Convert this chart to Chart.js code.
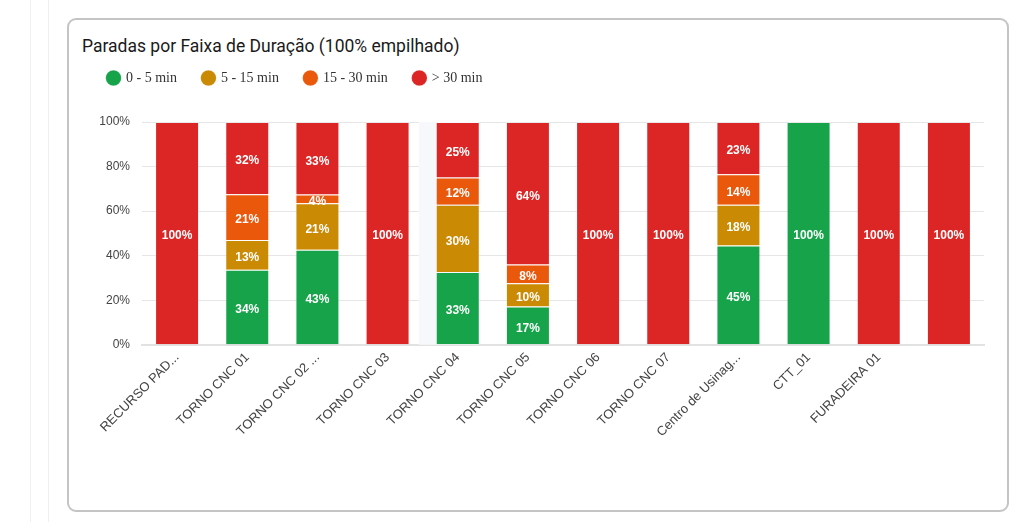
<!DOCTYPE html>
<html>
<head>
<meta charset="utf-8">
<script src="https://cdn.jsdelivr.net/npm/chart.js@4"></script>
<style>
  html, body { margin: 0; padding: 0; background: #fff; }
  body { width: 1029px; height: 522px; position: relative; overflow: hidden; }
  .rule { position: absolute; top: 0; bottom: 0; width: 1px; background: #efefef; }
  .card {
    position: absolute; left: 67px; top: 18px; width: 938px; height: 490px;
    border: 2px solid #c4c4c4; border-radius: 9px; background: #fff;
  }
  .title {
    position: absolute; left: 82px; top: 36px; margin: 0;
    font: 17.5px Roboto, sans-serif; line-height: 21px; color: #1a1a1a;
  }
  #wrap { position: absolute; left: 0; top: 0; width: 1029px; height: 522px; }
</style>
</head>
<body>
<div class="rule" style="left:30px"></div>
<div class="rule" style="left:48px"></div>
<div class="card"></div>
<h3 class="title">Paradas por Faixa de Duração (100% empilhado)</h3>
<div id="wrap"><canvas id="chart"></canvas></div>
<script>
// categorias (recursos) e percentuais por faixa de duração
const categories = ['RECURSO PAD...', 'TORNO CNC 01', 'TORNO CNC 02 ...', 'TORNO CNC 03', 'TORNO CNC 04',
  'TORNO CNC 05', 'TORNO CNC 06', 'TORNO CNC 07', 'Centro de Usinag...', 'CTT_01', 'FURADEIRA 01', ''];
const seriesNames = ['0 - 5 min', '5 - 15 min', '15 - 30 min', '> 30 min'];
const ate5 = [0, 33.7, 42.6, 0, 32.7, 17.2, 0, 0, 44.6, 100, 0, 0];
const de5a15 = [0, 13.3, 20.9, 0, 30.2, 10.4, 0, 0, 18.3, 0, 0, 0];
const de15a30 = [0, 20.6, 4.0, 0, 12.2, 8.4, 0, 0, 13.7, 0, 0, 0];
const acima30 = [100, 32.4, 32.5, 100, 24.9, 64.0, 100, 100, 23.4, 0, 100, 100];
const yTicks = [0, 20, 40, 60, 80, 100];

const colors = ['#16A34A', '#CA8A04', '#EA580C', '#DC2626'];
const highlightIndex = 4;  // coluna com fundo destacado (hover)

// rótulos de porcentagem dentro das barras
const barLabels = {
  id: 'barLabels',
  afterDatasetsDraw(chart) {
    const ctx = chart.ctx;
    ctx.save();
    ctx.font = 'bold 12px Arial, "Liberation Sans", sans-serif';
    ctx.fillStyle = '#ffffff';
    ctx.textAlign = 'center';
    ctx.textBaseline = 'middle';
    chart.data.datasets.forEach((ds, i) => {
      chart.getDatasetMeta(i).data.forEach((bar, j) => {
        const v = ds.data[j];
        if (!v) return;
        const p = bar.getProps(['x', 'y', 'base'], true);
        ctx.fillText(Math.round(v) + '%', p.x, (p.y + p.base) / 2 + 3);
      });
    });
    ctx.restore();
  }
};

// faixa clara atrás da coluna destacada
const hoverBand = {
  id: 'hoverBand',
  beforeDatasetsDraw(chart) {
    const x = chart.scales.x.getPixelForValue(highlightIndex);
    const a = chart.chartArea;
    const ctx = chart.ctx;
    ctx.save();
    ctx.fillStyle = '#f6f8fc';
    ctx.fillRect(x - 39, a.top, 60, a.bottom - a.top);
    ctx.restore();
  }
};

// espaço extra entre a legenda e o gráfico
const legendGap = {
  id: 'legendGap',
  beforeInit(chart) {
    const fit = chart.legend.fit;
    chart.legend.fit = function () {
      fit.bind(chart.legend)();
      this.height += 27;
    };
  }
};

const seriesData = [ate5, de5a15, de15a30, acima30];

new Chart(document.getElementById('chart'), {
  type: 'bar',
  data: {
    labels: categories,
    datasets: seriesNames.map((name, i) => ({
      label: name,
      data: seriesData[i],
      backgroundColor: colors[i],
      borderColor: 'rgba(255,255,255,0.15)',
      borderWidth: 1,
      barPercentage: 0.627,
      categoryPercentage: 1
    }))
  },
  options: {
    responsive: true,
    maintainAspectRatio: false,
    animation: false,
    layout: { padding: { left: 82, right: 45, top: 45, bottom: 77 } },
    plugins: {
      legend: {
        position: 'top',
        align: 'start',
        labels: {
          usePointStyle: true,
          pointStyle: 'circle',
          boxWidth: 11,
          boxHeight: 11,
          padding: 26,
          color: '#333',
          font: { family: '"Liberation Serif", "Times New Roman", serif', size: 14 }
        }
      },
      title: { display: false },
      tooltip: { enabled: false }
    },
    scales: {
      x: {
        stacked: true,
        grid: { display: false, drawTicks: false },
        border: { display: true, color: '#e2e2e2', width: 2 },
        ticks: {
          autoSkip: false,
          maxRotation: 45,
          minRotation: 45,
          padding: 5,
          color: '#444',
          font: { family: 'Arial, "Liberation Sans", sans-serif', size: 13 }
        }
      },
      y: {
        stacked: true,
        min: 0,
        max: 100,
        afterFit(scale) { scale.width = 60; },
        afterBuildTicks(scale) { scale.ticks = yTicks.map(v => ({ value: v })); },
        grid: { color: '#e6e6e6', drawTicks: false },
        border: { display: false },
        ticks: {
          padding: 12,
          color: '#444',
          font: { family: 'Arial, "Liberation Sans", sans-serif', size: 12 },
          callback: v => v + '%'
        }
      }
    }
  },
  plugins: [hoverBand, barLabels, legendGap]
});
</script>
</body>
</html>
